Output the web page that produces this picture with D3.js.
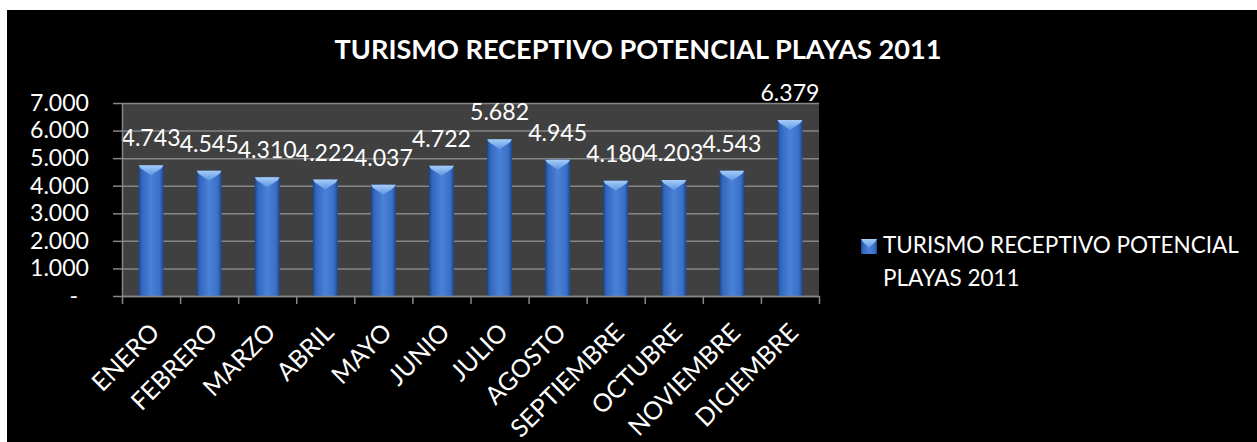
<!DOCTYPE html>
<html>
<head>
<meta charset="utf-8">
<script src="https://cdn.jsdelivr.net/npm/d3@7"></script>
<style>
body { margin: 0; background: #fff; }
text { font-family: Lato, "Open Sans", sans-serif; fill: #fff; }
</style>
</head>
<body>
<svg id="chart" width="1257" height="442"></svg>
<script>
// datos
var meses = ["ENERO", "FEBRERO", "MARZO", "ABRIL", "MAYO", "JUNIO", "JULIO",
             "AGOSTO", "SEPTIEMBRE", "OCTUBRE", "NOVIEMBRE", "DICIEMBRE"];
var turistas = [4743, 4545, 4310, 4222, 4037, 4722, 5682, 4945, 4180, 4203, 4543, 6379];
var yTicks = [0, 1000, 2000, 3000, 4000, 5000, 6000, 7000];
var titulo = "TURISMO RECEPTIVO POTENCIAL PLAYAS 2011";
var serieNombre = ["TURISMO RECEPTIVO POTENCIAL", "PLAYAS 2011"];

var datos = meses.map(function(m, i){ return {mes: m, valor: turistas[i]}; });

// formato con punto de miles, el cero como "-"
var es = d3.formatLocale({decimal: ",", thousands: ".", grouping: [3], currency: ["", ""]});
var miles = es.format(",");
function fmt(v){ return v === 0 ? "-" : miles(v); }

var svg = d3.select("#chart");
var plot = {left: 122, right: 819, top: 103, bottom: 296};
var gris = "#868686";

// ajusta el tamano de letra para que el texto ocupe un ancho dado
function ajustar(t, ancho){
    var w = t.node().getComputedTextLength();
    var fs = parseFloat(t.style("font-size"));
    var nuevo = fs * ancho / w;
    t.style("font-size", nuevo + "px");
    return nuevo;
}

// fondo negro del grafico
svg.append("rect")
    .attr("x", 7).attr("y", 10)
    .attr("width", 1257 - 7).attr("height", 442 - 10)
    .attr("fill", "#000");

// tamano base de letra a partir de la etiqueta "7.000"
var prueba = svg.append("text").style("font-size", "20px").text(fmt(7000));
var fsBase = ajustar(prueba, 59);
prueba.remove();

// gradientes de las barras
var defs = svg.append("defs");
var gBar = defs.append("linearGradient").attr("id", "barGrad")
    .attr("x1", 0).attr("x2", 1).attr("y1", 0).attr("y2", 0);
[["0", "#1a4385"], ["0.12", "#3166bb"], ["0.5", "#4a82d8"], ["0.85", "#3a70c6"], ["1", "#1c4690"]]
    .forEach(function(s){ gBar.append("stop").attr("offset", s[0]).attr("stop-color", s[1]); });
var gCap = defs.append("linearGradient").attr("id", "capGrad")
    .attr("x1", 0).attr("x2", 0).attr("y1", 0).attr("y2", 1);
gCap.append("stop").attr("offset", "0").attr("stop-color", "#a6cdf8");
gCap.append("stop").attr("offset", "1").attr("stop-color", "#5d95e2");

// escalas
var y = d3.scaleLinear().domain([0, 7000]).range([plot.bottom, plot.top]);
var x = d3.scaleBand().domain(meses).range([plot.left, plot.right]).padding(0);
var xLin = d3.scaleLinear().domain([0, meses.length]).range([plot.left, plot.right]);
var bw = x.bandwidth() * 0.43;

// fondo del area de trazado
svg.append("rect")
    .attr("x", plot.left).attr("y", plot.top)
    .attr("width", plot.right - plot.left).attr("height", plot.bottom - plot.top)
    .attr("fill", "#404040");

// lineas de division
var grid = svg.append("g")
    .attr("transform", "translate(" + plot.left + ",0)")
    .call(d3.axisLeft(y).tickValues(yTicks).tickSize(-(plot.right - plot.left)).tickFormat(""));
grid.select(".domain").remove();
grid.selectAll("line").attr("stroke", gris).attr("stroke-width", 1.5);

// barras
var barras = svg.append("g").selectAll("g.barra")
    .data(datos)
    .enter()
    .append("g")
    .attr("class", "barra");

barras.append("rect")
    .attr("x", function(d){ return x(d.mes) + (x.bandwidth() - bw) / 2; })
    .attr("y", function(d){ return y(d.valor); })
    .attr("width", bw)
    .attr("height", function(d){ return y(0) - y(d.valor); })
    .attr("fill", "url(#barGrad)");

// tapa biselada de cada barra
barras.append("path")
    .attr("d", function(d){
        var x0 = x(d.mes) + (x.bandwidth() - bw) / 2, x1 = x0 + bw, t = y(d.valor);
        var cx = x0 + bw / 2;
        return "M" + x0 + "," + t + "L" + x1 + "," + t +
               "L" + (x1 - 2) + "," + (t + 3) + "L" + cx + "," + (t + 10) +
               "L" + (x0 + 2) + "," + (t + 3) + "Z";
    })
    .attr("fill", "url(#capGrad)");

// etiquetas de datos
barras.append("text")
    .attr("x", function(d){ return x(d.mes) + x.bandwidth() / 2; })
    .attr("y", function(d){ return y(d.valor) - 19; })
    .attr("text-anchor", "middle")
    .style("font-size", fsBase + "px")
    .text(function(d){ return fmt(d.valor); });

// eje Y
var ejeY = svg.append("g")
    .attr("transform", "translate(" + plot.left + ",0)")
    .call(d3.axisLeft(y).tickValues(yTicks).tickSize(9).tickSizeOuter(0).tickPadding(24).tickFormat(fmt));
ejeY.selectAll("line, path").attr("stroke", gris).attr("stroke-width", 1.5);
ejeY.selectAll("text")
    .attr("fill", "#fff")
    .style("font-size", fsBase + "px")
    .style("font-family", "Lato, 'Open Sans', sans-serif")
    .attr("dx", function(d){ return d === 0 ? -11 : 0; });

// eje X (marcas entre categorias)
var ejeX = svg.append("g")
    .attr("transform", "translate(0," + plot.bottom + ")")
    .call(d3.axisBottom(xLin).tickValues(d3.range(meses.length + 1)).tickSize(8).tickSizeOuter(0).tickFormat(""));
ejeX.selectAll("line, path").attr("stroke", gris).attr("stroke-width", 1.5);

// etiquetas de meses giradas
svg.append("g").selectAll("text")
    .data(meses)
    .enter()
    .append("text")
    .attr("transform", function(m){
        return "translate(" + (x(m) + x.bandwidth() / 2 + 10) + "," + 334 + ") rotate(-45)";
    })
    .attr("text-anchor", "end")
    .style("font-size", (fsBase * 1.08) + "px")
    .text(function(m){ return m; });

// titulo
var tt = svg.append("text")
    .attr("x", 638).attr("y", 59)
    .attr("text-anchor", "middle")
    .style("font-weight", "bold")
    .style("font-size", "26px")
    .text(titulo);
ajustar(tt, 607);

// leyenda
var ley = svg.append("g").attr("transform", "translate(861,239)");
ley.append("rect").attr("width", 16).attr("height", 15).attr("fill", "url(#barGrad)");
ley.append("path").attr("d", "M0,0L16,0L14,3L8,9L2,3Z").attr("fill", "url(#capGrad)");
var l1 = ley.append("text").attr("x", 22).attr("y", 14).style("font-size", "22px").text(serieNombre[0]);
var fsLey = ajustar(l1, 356);
ley.append("text").attr("x", 22).attr("y", 47).style("font-size", fsLey + "px").text(serieNombre[1]);
</script>
</body>
</html>
